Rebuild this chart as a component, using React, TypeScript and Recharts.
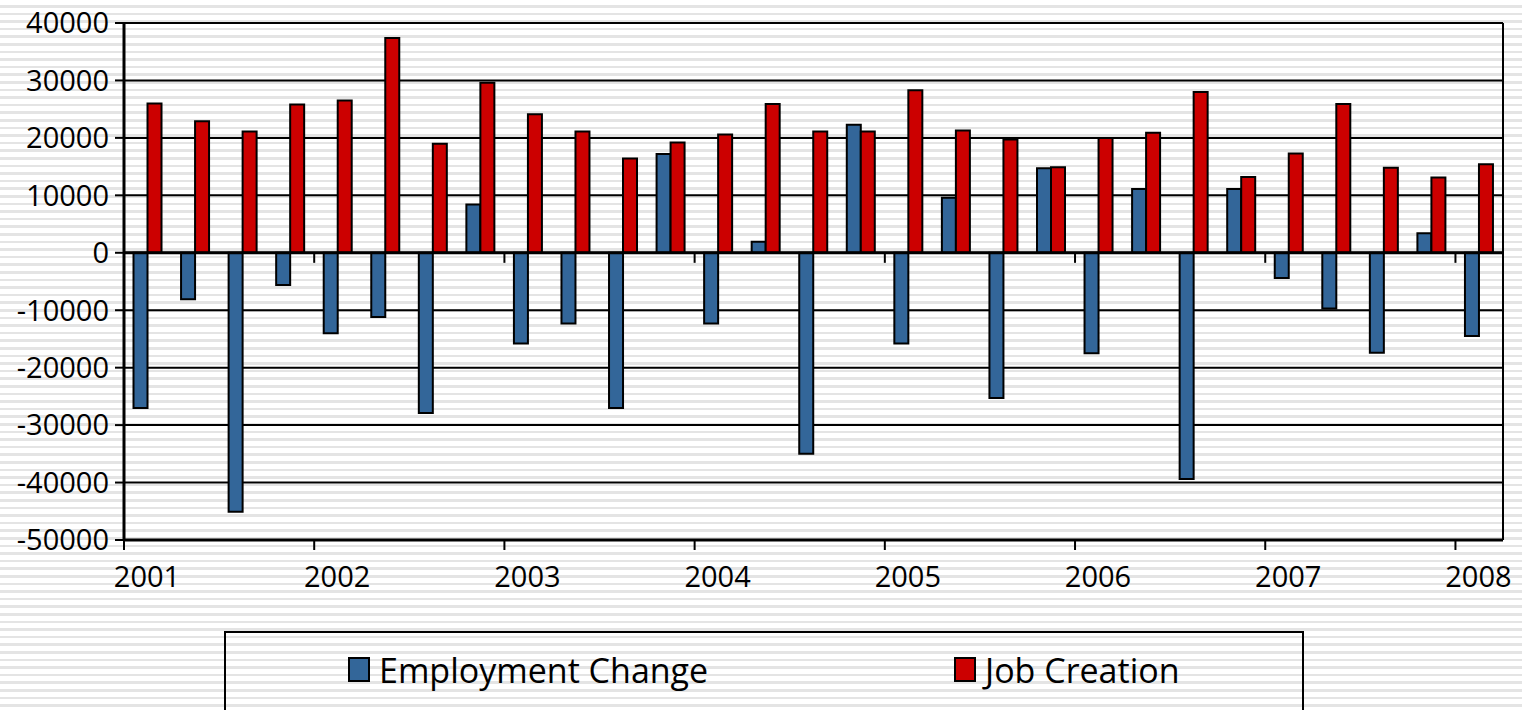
import React from 'react';
import { BarChart, Bar, XAxis, YAxis, CartesianGrid, ReferenceLine, Legend } from 'recharts';

const quarters = [
  '2001Q1', '2001Q2', '2001Q3', '2001Q4',
  '2002Q1', '2002Q2', '2002Q3', '2002Q4',
  '2003Q1', '2003Q2', '2003Q3', '2003Q4',
  '2004Q1', '2004Q2', '2004Q3', '2004Q4',
  '2005Q1', '2005Q2', '2005Q3', '2005Q4',
  '2006Q1', '2006Q2', '2006Q3', '2006Q4',
  '2007Q1', '2007Q2', '2007Q3', '2007Q4',
  '2008Q1',
];

const employmentChange = [
  -27000, -8100, -45100, -5600,
  -14000, -11200, -27900, 8400,
  -15800, -12300, -27000, 17200,
  -12300, 1900, -35000, 22300,
  -15800, 9600, -25300, 14700,
  -17500, 11100, -39400, 11100,
  -4400, -9700, -17400, 3400,
  -14500,
];

const jobCreation = [
  26000, 22900, 21100, 25800,
  26500, 37400, 19000, 29600,
  24100, 21100, 16400, 19200,
  20600, 25900, 21100, 21100,
  28300, 21300, 19700, 14900,
  20000, 20900, 28000, 13200,
  17300, 25900, 14800, 13100,
  15400,
];

const yearLabels = ['2001', '2002', '2003', '2004', '2005', '2006', '2007', '2008'];
const yAxisTicks = [-50000, -40000, -30000, -20000, -10000, 0, 10000, 20000, 30000, 40000];
const seriesNames = ['Employment Change', 'Job Creation'];
const seriesColors = ['#336699', '#CC0000'];

const data = quarters.map((q, i) => ({
  quarter: q,
  idx: i + 0.5,
  employment: employmentChange[i],
  creation: jobCreation[i],
}));
const yearTicks = yearLabels.map((_, i) => i * 4);

const FONT = '"Open Sans", "Noto Sans", sans-serif';

const YearTick = (props: any) => {
  const { x, y, payload } = props;
  const label = yearLabels[Math.round(payload.value / 4)];
  return (
    <text x={x + 23} y={y} dy="0.71em" textAnchor="middle" fill="#000" fontSize={29} fontFamily={FONT}>
      {label}
    </text>
  );
};

const LegendBox = (props: any) => {
  const payload = props.payload || [];
  const lefts = [122, 728];
  return (
    <div style={{ position: 'relative', width: '100%', height: '100%' }}>
      {payload.map((p: any, i: number) => (
        <div key={p.value} style={{ position: 'absolute', left: lefts[i], top: 0 }}>
          <div
            style={{
              position: 'absolute',
              left: 0,
              top: 24,
              width: 22,
              height: 25,
              boxSizing: 'border-box',
              border: '2px solid #000',
              background: p.color,
            }}
          />
          <div
            style={{
              position: 'absolute',
              left: 31,
              top: 20,
              whiteSpace: 'nowrap',
              fontFamily: FONT,
              fontSize: 34,
              lineHeight: '34px',
              color: '#000',
            }}
          >
            {p.value}
          </div>
        </div>
      ))}
    </div>
  );
};

export default function App() {
  return (
    <div
      style={{
        position: 'absolute',
        left: 0,
        top: 0,
        width: 1522,
        height: 710,
        overflow: 'hidden',
        background:
          'repeating-linear-gradient(180deg, #ffffff 0px, #ffffff 5px, #e4e4e4 5px, #e4e4e4 7.6px)',
      }}
    >
      <BarChart
        width={1522}
        height={710}
        data={data}
        margin={{ top: 23, right: 19, left: 0, bottom: 110 }}
        barCategoryGap="20%"
        barGap={0}
      >
        <CartesianGrid vertical={false} stroke="#000" strokeWidth={2} />
        <XAxis xAxisId={0} dataKey="quarter" type="category" hide height={0} />
        <XAxis
          xAxisId="year"
          dataKey="idx"
          type="number"
          domain={[0, 29]}
          allowDataOverflow
          ticks={yearTicks}
          interval={0}
          height={60}
          tickSize={10}
          tickMargin={16}
          axisLine={{ stroke: '#000', strokeWidth: 3 }}
          tickLine={{ stroke: '#000', strokeWidth: 2 }}
          tick={<YearTick />}
        />
        <YAxis
          domain={[-50000, 40000]}
          allowDataOverflow
          ticks={yAxisTicks}
          interval={0}
          width={124}
          tickSize={9}
          tickMargin={6}
          axisLine={{ stroke: '#000', strokeWidth: 3 }}
          tickLine={{ stroke: '#000', strokeWidth: 2 }}
          tick={{ fill: '#000', fontSize: 29, fontFamily: FONT }}
        />
        <Bar
          dataKey="employment"
          name={seriesNames[0]}
          fill={seriesColors[0]}
          stroke="#000"
          strokeWidth={2}
          isAnimationActive={false}
        />
        <Bar
          dataKey="creation"
          name={seriesNames[1]}
          fill={seriesColors[1]}
          stroke="#000"
          strokeWidth={2}
          isAnimationActive={false}
        />
        <ReferenceLine y={0} stroke="#000" strokeWidth={3} />
        {yearTicks.slice(1).map((t) => (
          <ReferenceLine
            key={t}
            xAxisId="year"
            segment={[{ x: t, y: 0 }, { x: t, y: -1750 }]}
            stroke="#000"
            strokeWidth={2}
            ifOverflow="visible"
          />
        ))}
        <ReferenceLine xAxisId="year" x={29} stroke="#000" strokeWidth={2} ifOverflow="visible" />
        <Legend
          layout="horizontal"
          verticalAlign="middle"
          align="center"
          content={<LegendBox />}
          wrapperStyle={{
            left: 224,
            top: 631,
            width: 1080,
            height: 90,
            border: '2px solid #000',
            boxSizing: 'border-box',
            margin: 0,
          }}
        />
      </BarChart>
    </div>
  );
}
